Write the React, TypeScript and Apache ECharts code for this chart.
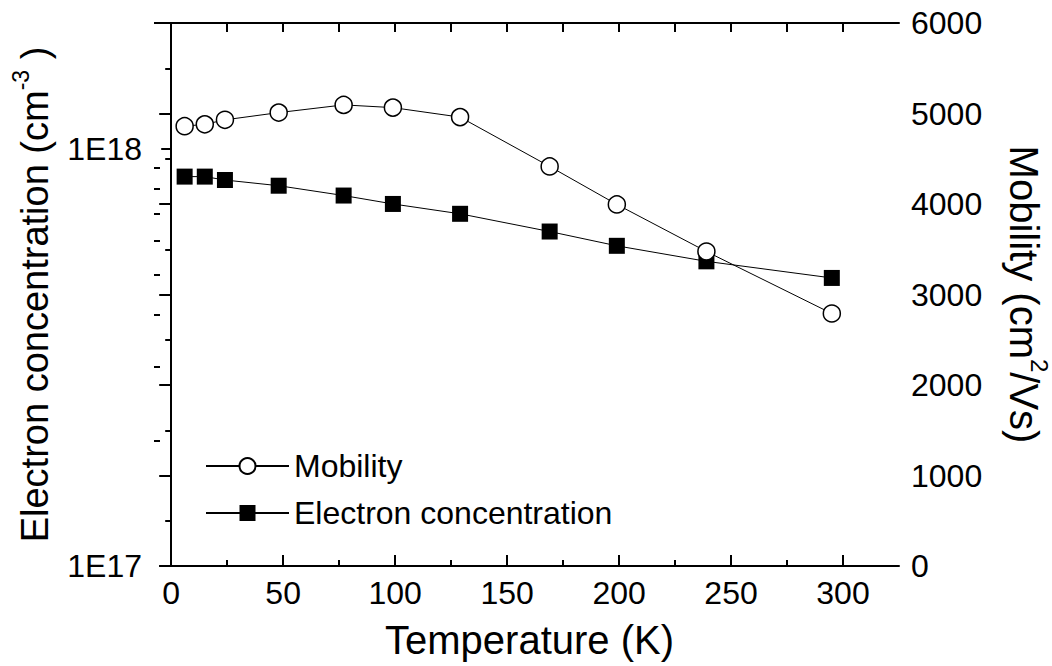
import React, { useEffect, useRef } from 'react';
import * as echarts from 'echarts';

// ---- data ----
const temperature = [6, 15, 24, 48, 77, 99, 129, 169, 199, 239, 295];
const mobility = [4860, 4880, 4930, 5010, 5095, 5065, 4960, 4415, 3995, 3475, 2790];
const concentration = [
  8.57e17, 8.57e17, 8.41e17, 8.15e17, 7.72e17, 7.37e17, 6.98e17, 6.33e17, 5.85e17, 5.37e17, 4.9e17,
];

// ---- tick values ----
const xMajorTicks = [0, 50, 100, 150, 200, 250, 300];
const xMinorTicks = [25, 75, 125, 175, 225, 275];
const xTopTicks = [0, 25, 50, 75, 100, 125, 150, 175, 200, 225, 250, 275, 300];
const concMajorTicks = [1e17, 1e18];
const concMinorTicks = [2e17, 3e17, 4e17, 5e17, 6e17, 7e17, 8e17, 9e17, 2e18];
const concMin = 1e17;
const concMax = 2e18;
const xMin = -5;
const xMax = 325;
const mobMin = 0;
const mobMax = 6000;
const mobStep = 1000;

const FONT = "'Liberation Sans', Arial, Helvetica, sans-serif";
const BLACK = '#000';

export default function App() {
  const ref = useRef<HTMLDivElement>(null);

  useEffect(() => {
    if (!ref.current) return;
    const chart = echarts.init(ref.current, null, { renderer: 'svg' });
    const lg = (v: number) => Math.log10(v);
    const tickFont = { fontFamily: FONT, fontSize: 32, color: BLACK };
    const nameFont = {
      fontFamily: FONT,
      fontSize: 40,
      color: BLACK,
    };

    const option: any = {
      animation: false,
      backgroundColor: '#fff',
      textStyle: { fontFamily: FONT },
      grid: { left: 160, right: 153, top: 23, bottom: 100, containLabel: false, outerBoundsMode: 'none' },
      legend: {
        orient: 'vertical',
        left: 200,
        top: 445,
        itemWidth: 83,
        itemHeight: 20,
        itemGap: 15,
        data: ['Mobility', 'Electron concentration'],
        textStyle: { fontFamily: FONT, fontSize: 32, color: BLACK, lineHeight: 32 },
      },
      xAxis: [
        {
          type: 'value',
          position: 'bottom',
          min: xMin,
          max: xMax,
          name: 'Temperature (K)',
          nameLocation: 'middle',
          nameGap: 54,
          nameTextStyle: nameFont,
          axisLine: { show: true, lineStyle: { color: BLACK, width: 2 } },
          axisTick: {
            show: true,
            inside: true,
            length: 11,
            customValues: xMajorTicks,
            lineStyle: { color: BLACK, width: 2 },
          },
          axisLabel: { ...tickFont, margin: 11, customValues: xMajorTicks },
          splitLine: { show: false },
        },
        {
          type: 'value',
          position: 'top',
          min: xMin,
          max: xMax,
          axisLine: { show: true, lineStyle: { color: BLACK, width: 2 } },
          axisTick: {
            show: true,
            inside: true,
            length: 9,
            customValues: xTopTicks,
            lineStyle: { color: BLACK, width: 2 },
          },
          axisLabel: { show: false },
          splitLine: { show: false },
        },
        {
          type: 'value',
          position: 'bottom',
          min: xMin,
          max: xMax,
          axisLine: { show: false },
          axisTick: {
            show: true,
            inside: true,
            length: 6,
            customValues: xMinorTicks,
            lineStyle: { color: BLACK, width: 2 },
          },
          axisLabel: { show: false },
          splitLine: { show: false },
        },
      ],
      yAxis: [
        {
          type: 'log',
          logBase: 10,
          position: 'left',
          min: concMin,
          max: concMax,
          name: 'Electron concentration (cm{sup|-3} )',
          nameLocation: 'middle',
          nameGap: 100,
          nameTextStyle: {
            ...nameFont,
            fontSize: 38,
            rich: {
              sup: { fontFamily: FONT, fontSize: 23, color: BLACK, padding: [0, 0, 28, 0] },
            },
          },
          axisLine: { show: true, lineStyle: { color: BLACK, width: 2 } },
          axisTick: { show: false },
          axisLabel: { show: false },
          splitLine: { show: false },
        },
        {
          type: 'value',
          position: 'right',
          min: mobMin,
          max: mobMax,
          interval: mobStep,
          name: 'Mobility (cm{sup|2}/Vs)',
          nameLocation: 'middle',
          nameGap: 98,
          nameRotate: -90,
          nameTextStyle: {
            ...nameFont,
            rich: {
              sup: { fontFamily: FONT, fontSize: 24, color: BLACK, padding: [0, 0, 30, 0] },
            },
          },
          axisLine: { show: true, lineStyle: { color: BLACK, width: 2 } },
          axisTick: { show: true, inside: true, length: 12, lineStyle: { color: BLACK, width: 2 } },
          minorTick: { show: true, splitNumber: 2, length: 6, lineStyle: { color: BLACK, width: 2 } },
          axisLabel: { ...tickFont, margin: 12, formatter: (v: number) => String(v) },
          splitLine: { show: false },
          minorSplitLine: { show: false },
        },
        {
          type: 'value',
          position: 'left',
          min: lg(concMin),
          max: lg(concMax),
          axisLine: { show: false },
          axisTick: {
            show: true,
            inside: false,
            length: 10,
            customValues: concMajorTicks.map(lg),
            lineStyle: { color: BLACK, width: 2 },
          },
          axisLabel: {
            ...tickFont,
            margin: 18,
            customValues: concMajorTicks.map(lg),
            formatter: (v: number) => '1E' + Math.round(v),
          },
          splitLine: { show: false },
        },
        {
          type: 'value',
          position: 'left',
          min: lg(concMin),
          max: lg(concMax),
          axisLine: { show: false },
          axisTick: {
            show: true,
            inside: false,
            length: 6,
            customValues: concMinorTicks.map(lg),
            lineStyle: { color: BLACK, width: 2 },
          },
          axisLabel: { show: false },
          splitLine: { show: false },
        },
      ],
      series: [
        {
          name: 'Electron concentration',
          type: 'line',
          xAxisIndex: 0,
          yAxisIndex: 0,
          data: temperature.map((t, i) => [t, concentration[i]]),
          symbol: 'rect',
          symbolSize: 16,
          itemStyle: { color: BLACK },
          lineStyle: { color: BLACK, width: 1 },
          z: 3,
        },
        {
          name: 'Mobility',
          type: 'line',
          xAxisIndex: 0,
          yAxisIndex: 1,
          data: temperature.map((t, i) => [t, mobility[i]]),
          symbol: 'circle',
          symbolSize: 17,
          itemStyle: { color: '#fff', borderColor: BLACK, borderWidth: 1.5 },
          lineStyle: { color: BLACK, width: 1 },
          z: 4,
        },
      ],
    };

    chart.setOption(option);
    return () => chart.dispose();
  }, []);

  return (
    <div
      ref={ref}
      style={{ position: 'absolute', left: 0, top: 0, width: 1052, height: 666, background: '#fff' }}
    />
  );
}
